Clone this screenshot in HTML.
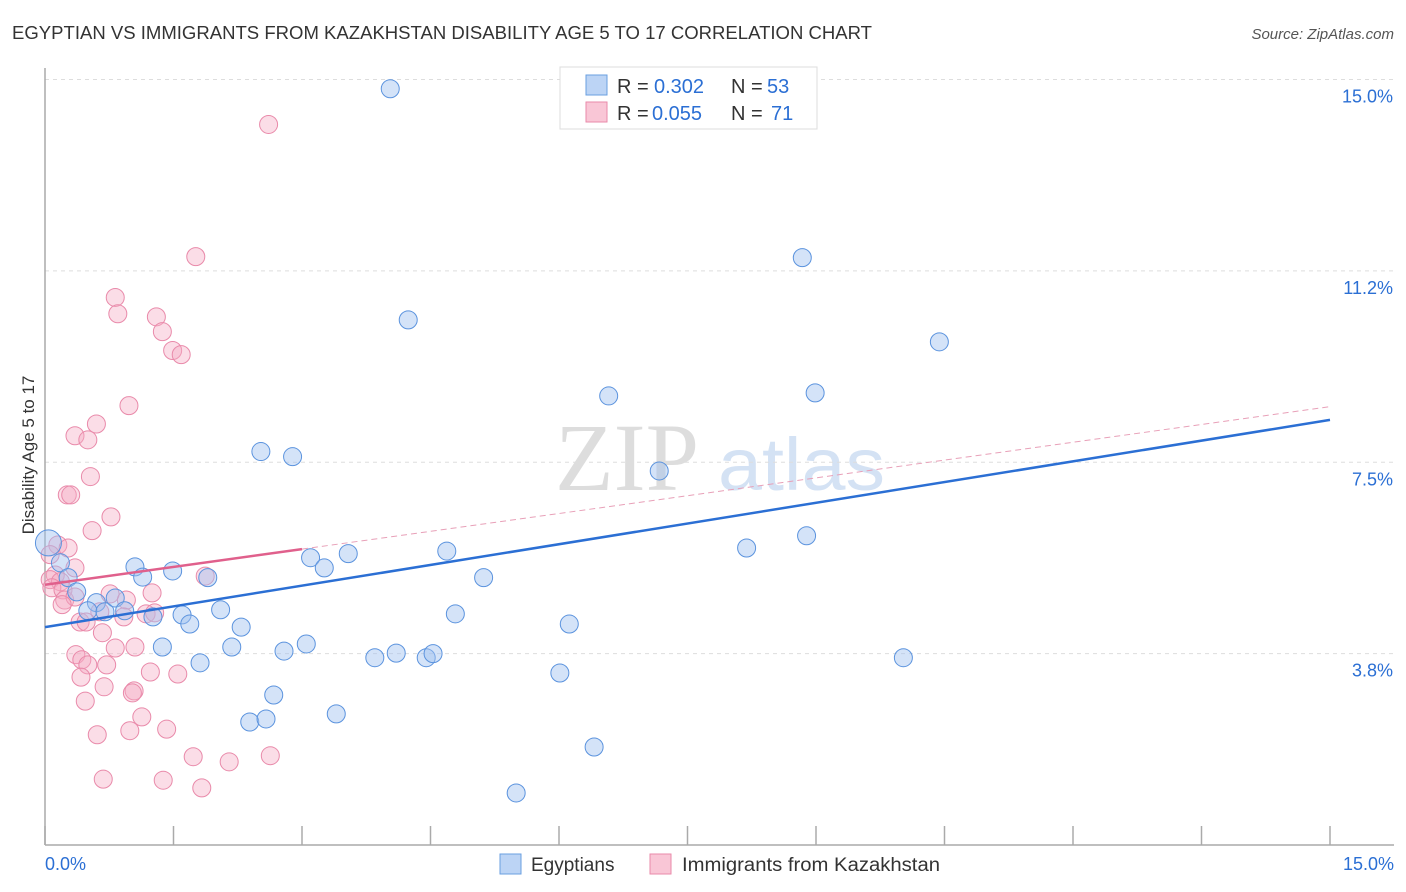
<!DOCTYPE html>
<html><head><meta charset="utf-8"><style>
body{margin:0;background:#fff;font-family:"Liberation Sans",sans-serif;}
</style></head><body>
<svg id="chart" width="1406" height="892" viewBox="0 0 1406 892" xmlns="http://www.w3.org/2000/svg" style="display:block">
<text x="12" y="39" font-size="18" fill="#333" textLength="860" lengthAdjust="spacingAndGlyphs">EGYPTIAN VS IMMIGRANTS FROM KAZAKHSTAN DISABILITY AGE 5 TO 17 CORRELATION CHART</text>
<text x="1394" y="39" font-size="15" fill="#555" text-anchor="end" font-style="italic">Source: ZipAtlas.com</text>
<text x="555" y="490" font-size="96" fill="#ddd" font-family="Liberation Serif,serif">ZIP</text>
<text x="718" y="490" font-size="74" fill="#d4e2f4" textLength="167" lengthAdjust="spacingAndGlyphs">atlas</text>
<g id="grid"></g>
<g id="axes"></g>
<g id="pinkPts"></g>
<g id="bluePts"></g>
<g id="lines"></g>
<text transform="translate(34,455) rotate(-90)" font-size="17" fill="#333" text-anchor="middle">Disability Age 5 to 17</text>
<g>
<rect x="560" y="67" width="257" height="62" fill="#fff" stroke="#ddd"/>
<rect x="586" y="75" width="21" height="20" fill="#bcd4f5" stroke="#6a9fe0"/>
<rect x="586" y="102" width="21" height="20" fill="#f9c6d6" stroke="#e98aaa"/>
<text x="617" y="93" font-size="20" fill="#333">R =</text>
<text x="654" y="93" font-size="20" fill="#2b6fd4">0.302</text>
<text x="731" y="93" font-size="20" fill="#333">N =</text>
<text x="767" y="93" font-size="20" fill="#2b6fd4">53</text>
<text x="617" y="120" font-size="20" fill="#333">R =</text>
<text x="652" y="120" font-size="20" fill="#2b6fd4">0.055</text>
<text x="731" y="120" font-size="20" fill="#333">N =</text>
<text x="771" y="120" font-size="20" fill="#2b6fd4">71</text>
</g>
<g>
<rect x="500" y="854" width="21" height="20" fill="#bcd4f5" stroke="#6a9fe0"/>
<text x="531" y="871" font-size="19" fill="#333">Egyptians</text>
<rect x="650" y="854" width="21" height="20" fill="#f9c6d6" stroke="#e98aaa"/>
<text x="682" y="871" font-size="19" fill="#333" textLength="258" lengthAdjust="spacingAndGlyphs">Immigrants from Kazakhstan</text>
</g>
</svg>
<script>
const blueX=[4.03,8.84,4.24,10.44,6.58,8.99,2.52,2.89,7.17,8.19,8.89,0.04,0.18,3.10,3.54,4.69,3.26,5.12,1.05,1.14,1.49,1.90,0.27,0.37,0.60,0.50,0.70,0.82,0.93,1.26,1.60,1.69,2.05,2.29,4.79,6.12,1.37,2.18,3.05,2.79,1.81,3.85,4.10,4.45,4.53,6.01,10.02,2.67,2.39,2.58,3.40,6.41,5.50];
const blueY=[14.82,11.51,10.29,9.86,8.80,8.86,7.71,7.61,7.33,5.82,6.06,5.92,5.53,5.63,5.71,5.76,5.43,5.24,5.45,5.25,5.37,5.24,5.24,4.96,4.75,4.59,4.57,4.84,4.59,4.47,4.51,4.33,4.61,4.27,4.53,4.33,3.88,3.88,3.94,3.80,3.57,3.67,3.76,3.67,3.75,3.37,3.67,2.94,2.41,2.47,2.57,1.92,1.02];
const pinkX=[2.61,1.76,0.82,0.85,1.30,1.37,1.49,1.59,0.98,0.60,0.35,0.50,0.53,0.26,0.30,0.77,0.55,0.15,0.27,0.06,0.35,0.12,0.06,0.18,0.08,0.21,0.23,0.35,0.76,0.95,1.25,1.87,0.20,0.64,0.92,1.18,1.28,0.41,0.48,0.67,0.82,1.05,0.36,0.43,0.50,0.72,1.23,1.55,0.42,0.69,1.04,1.02,0.47,1.13,1.42,0.99,0.61,1.73,2.15,2.63,0.68,1.38,1.83];
const pinkY=[14.12,11.53,10.73,10.41,10.35,10.06,9.69,9.61,8.61,8.25,8.02,7.94,7.22,6.86,6.86,6.43,6.16,5.88,5.82,5.69,5.43,5.29,5.20,5.16,5.04,5.00,4.80,4.86,4.92,4.80,4.94,5.27,4.71,4.57,4.47,4.53,4.55,4.37,4.37,4.16,3.86,3.88,3.73,3.63,3.53,3.53,3.39,3.35,3.29,3.10,3.02,2.98,2.82,2.51,2.27,2.24,2.16,1.73,1.63,1.75,1.29,1.27,1.12];
const yTicks=[15.0,11.25,7.5,3.75];
const yTickLabels=["15.0%","11.2%","7.5%","3.8%"];
const xTicks=[0,1.5,3,4.5,6,7.5,9,10.5,12,13.5,15];
const blueTrend=[4.27,8.33];
const pinkTrend=[5.10,8.59];
const pinkSolidEnd=3.0;
const xs=v=>45+v*(1285/15);
const ys=v=>845-v*51.03;
const NS="http://www.w3.org/2000/svg";
function mk(tag,attrs,parent){const e=document.createElementNS(NS,tag);for(const k in attrs)e.setAttribute(k,attrs[k]);document.getElementById(parent).appendChild(e);return e;}
yTicks.forEach((t,i)=>{
 const l=mk('line',{x1:45,x2:1394,y1:ys(t),y2:ys(t),stroke:'#ddd','stroke-dasharray':'4,4'},'grid');
 
 
 const tx=mk('text',{x:1393,y:ys(t)+23,'font-size':18,fill:'#2b6fd4','text-anchor':'end'},'grid');
 tx.textContent=yTickLabels[i];
 
 
});
const ax=mk('line',{x1:45,x2:45,y1:68,y2:845,stroke:'#aaa','stroke-width':1.5},'axes');


const bx=mk('line',{x1:45,x2:1394,y1:845,y2:845,stroke:'#aaa','stroke-width':1.5},'axes');


xTicks.forEach(t=>{
 const l=mk('line',{x1:xs(t),x2:xs(t),y1:826,y2:845,stroke:'#aaa','stroke-width':1.5},'axes');
 
 
});
const x0=mk('text',{x:45,y:870,'font-size':18,fill:'#2b6fd4'},'axes');x0.textContent='0.0%';


const x1=mk('text',{x:1394,y:870,'font-size':18,fill:'#2b6fd4','text-anchor':'end'},'axes');x1.textContent='15.0%';


pinkX.forEach((v,i)=>{
 const c=mk('circle',{cx:xs(v),cy:ys(pinkY[i]),r:9,fill:'rgba(246,170,196,0.4)',stroke:'#e98aaa','stroke-width':1},'pinkPts');
 
 
});
blueX.forEach((v,i)=>{
 const c=mk('circle',{cx:xs(v),cy:ys(blueY[i]),r:i==11?13:9,fill:'rgba(160,194,240,0.45)',stroke:'#5b93de','stroke-width':1},'bluePts');
 
 
});
const pl=t=>pinkTrend[0]+(pinkTrend[1]-pinkTrend[0])*t/15;
const bl=mk('line',{x1:xs(0),y1:ys(blueTrend[0]),x2:xs(15),y2:ys(blueTrend[1]),stroke:'#2b6fd4','stroke-width':2.5},'lines');


const pd=mk('line',{x1:xs(pinkSolidEnd),y1:ys(pl(pinkSolidEnd)),x2:xs(15),y2:ys(pinkTrend[1]),stroke:'#e8a0b8','stroke-width':1,'stroke-dasharray':'6,4'},'lines');


const ps=mk('line',{x1:xs(0),y1:ys(pinkTrend[0]),x2:xs(pinkSolidEnd),y2:ys(pl(pinkSolidEnd)),stroke:'#e0608c','stroke-width':2.5},'lines');


</script>
</body></html>
